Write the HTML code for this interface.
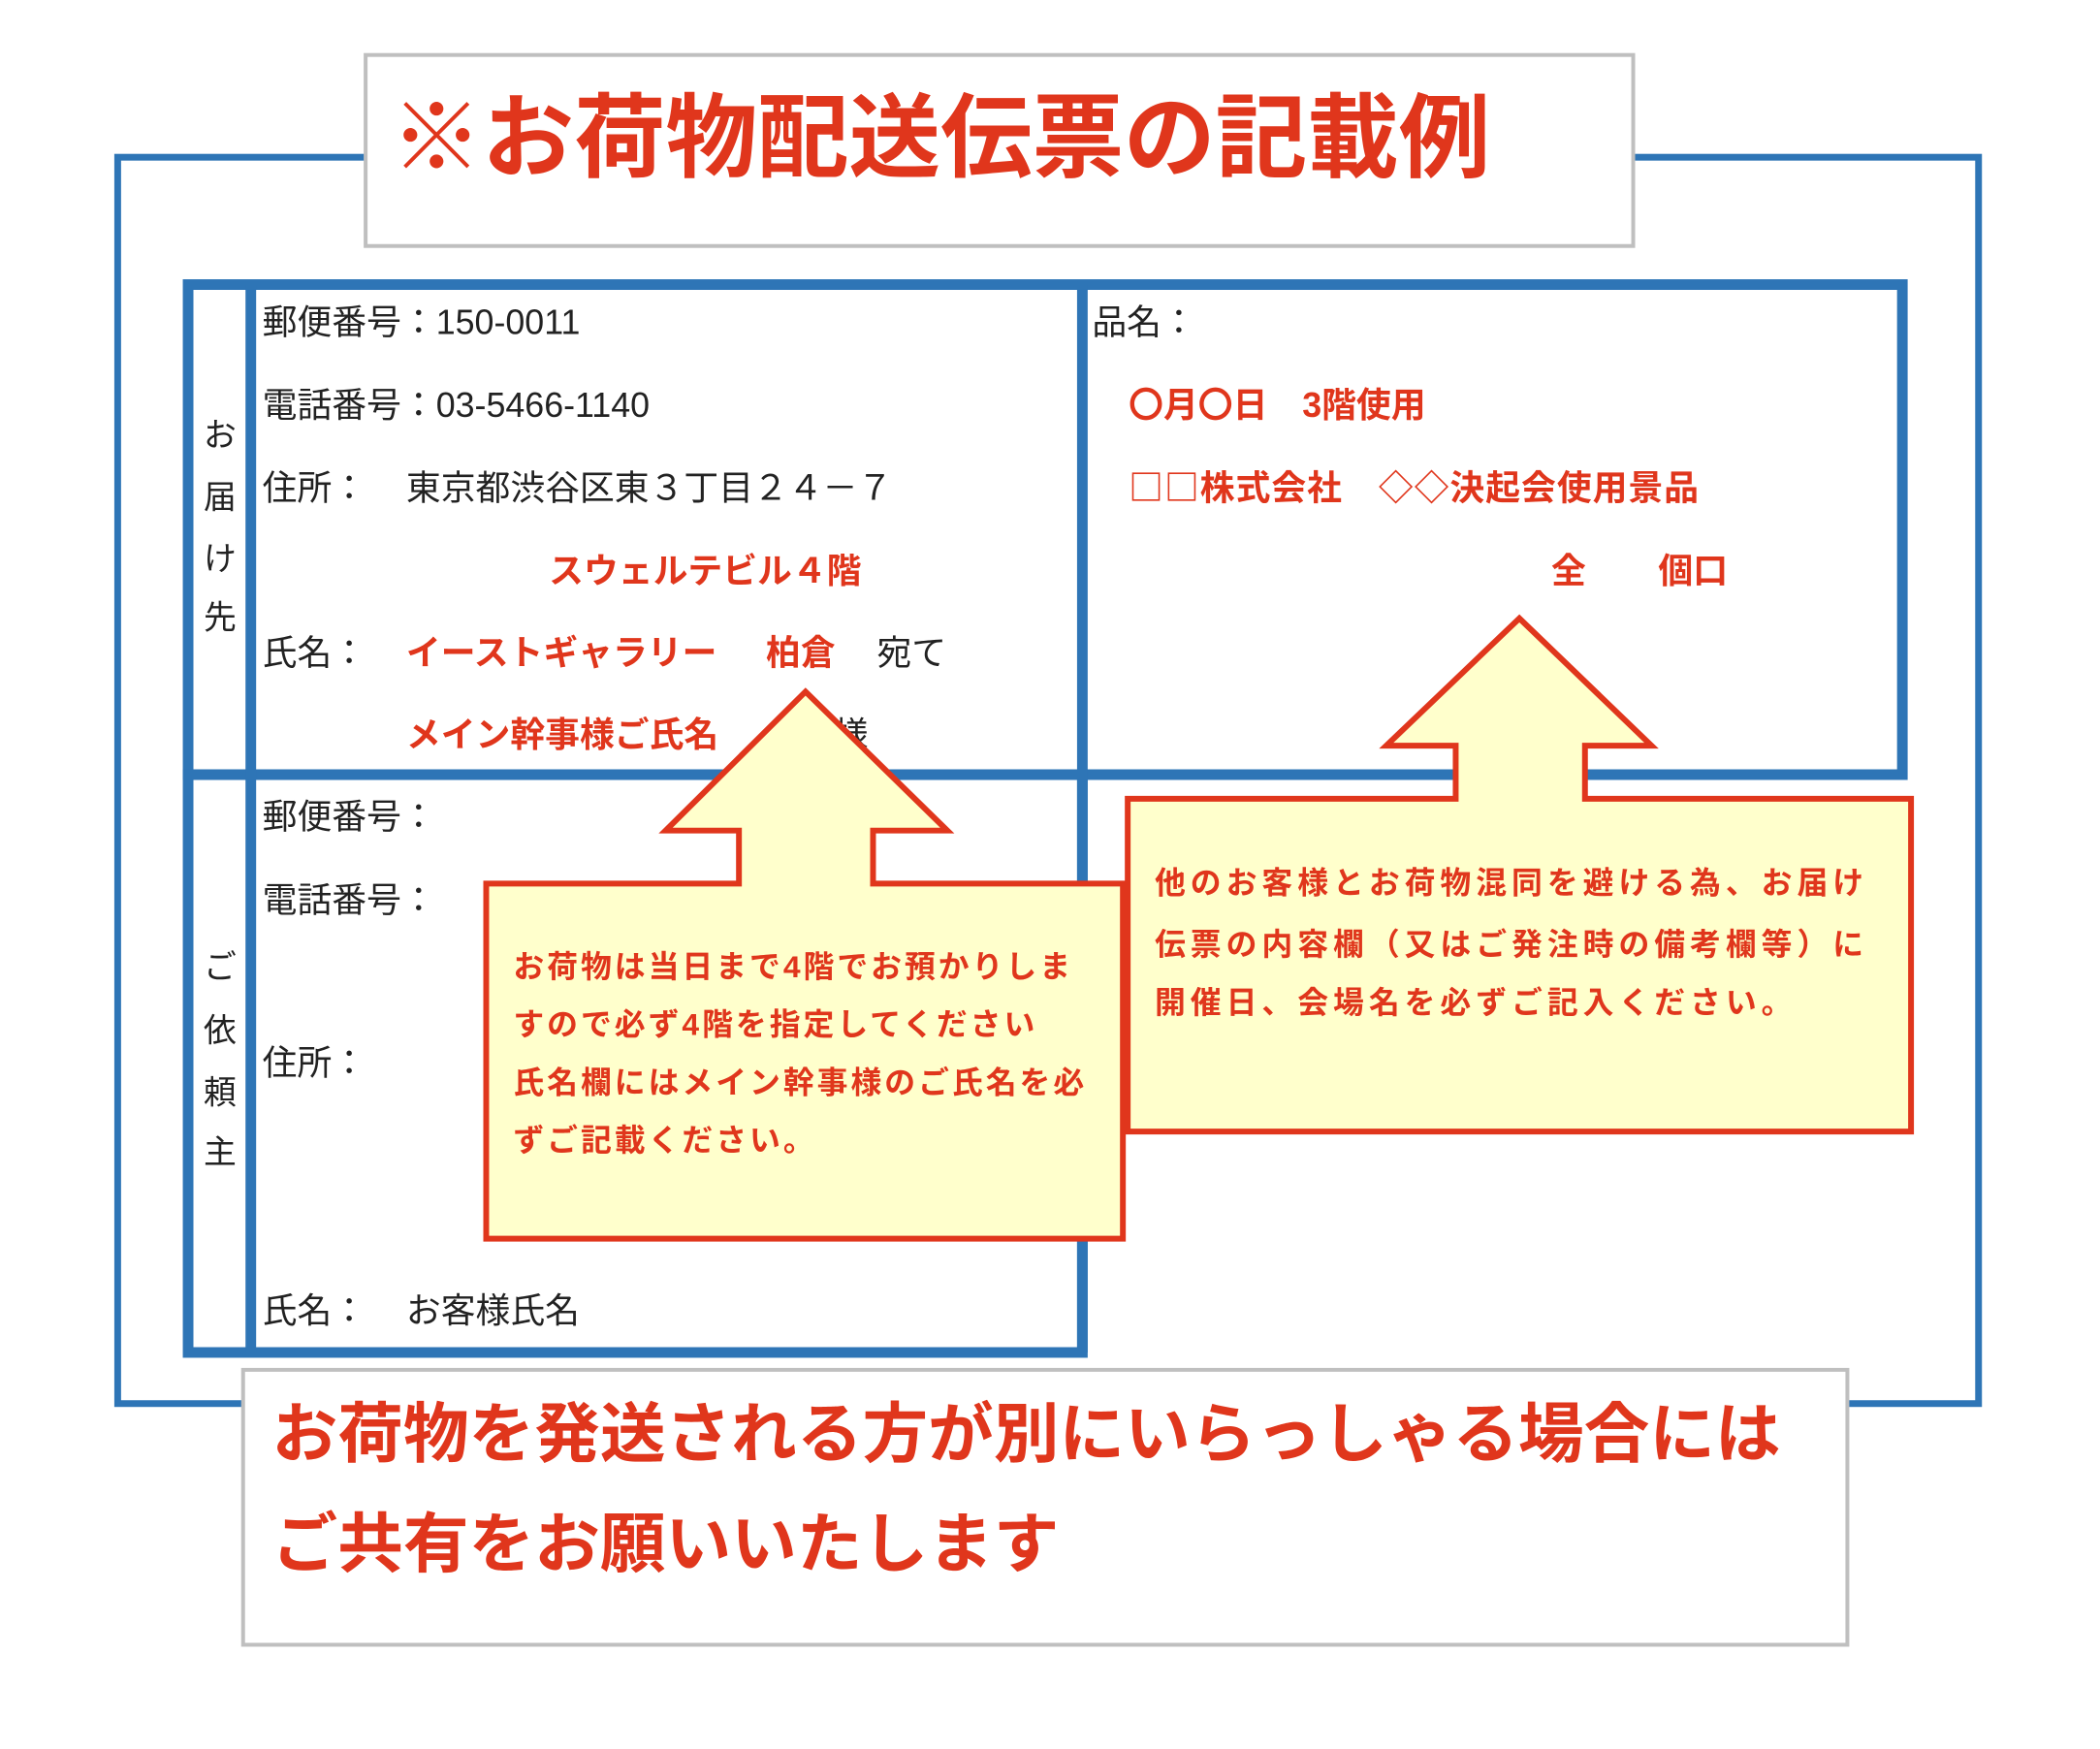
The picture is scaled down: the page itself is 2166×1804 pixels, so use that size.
<!DOCTYPE html>
<html><head><meta charset="utf-8"><style>
html,body{margin:0;padding:0;background:#fff;}
svg{display:block;}
text{font-family:"Liberation Sans","Noto Sans CJK JP",sans-serif;}
.k{fill:#222;font-size:36px;}
.r{fill:#e0361c;font-size:36px;font-weight:bold;}
.c{fill:#e0361c;font-size:32px;font-weight:bold;letter-spacing:3px;}
</style></head><body>
<svg width="2166" height="1804" viewBox="0 0 2166 1804" xmlns="http://www.w3.org/2000/svg">
<rect width="2166" height="1804" fill="#fff"/>
<g transform="scale(0.995)">
<rect x="122" y="163" width="1929" height="1292" fill="none" stroke="#2e75b6" stroke-width="7"/>
<rect x="379" y="57" width="1314" height="198" fill="#fff" stroke="#bfbfbf" stroke-width="4"/>
<text x="405" y="176" style="fill:#e0361c;font-size:95px;font-weight:bold;">※お荷物配送伝票の記載例</text>
<g fill="none" stroke="#2e75b6" stroke-width="11">
<rect x="195" y="295" width="1777" height="508"/>
<rect x="195" y="803" width="927" height="599"/>
<line x1="260" y1="295" x2="260" y2="1402"/>
<line x1="1122" y1="295" x2="1122" y2="1402"/>
</g>
<g class="k" text-anchor="middle" style="font-size:34px">
<text x="228" y="463">お</text><text x="228" y="527">届</text><text x="228" y="591">け</text><text x="228" y="652">先</text>
<text x="228" y="1014">ご</text><text x="228" y="1080">依</text><text x="228" y="1144">頼</text><text x="228" y="1206">主</text>
</g>
<text class="k" x="272" y="346">郵便番号：150-0011</text>
<text class="k" x="272" y="432">電話番号：03-5466-1140</text>
<text class="k" x="272" y="518">住所：</text>
<text class="k" x="421" y="518">東京都渋谷区東３丁目２４－７</text>
<text class="r" x="569" y="604">スウェルテビル４階</text>
<text class="k" x="272" y="689">氏名：</text>
<text class="r" x="421" y="689">イーストギャラリー</text>
<text class="r" x="794" y="689">柏倉</text>
<text class="k" x="909" y="689">宛て</text>
<text class="r" x="421" y="774">メイン幹事様ご氏名</text>
<text class="k" x="864" y="774">様</text>
<text class="k" x="272" y="859">郵便番号：</text>
<text class="k" x="272" y="945">電話番号：</text>
<text class="k" x="272" y="1114">住所：</text>
<text class="k" x="272" y="1371">氏名：</text>
<text class="k" x="421" y="1371">お客様氏名</text>
<text class="k" x="1132" y="346">品名：</text>
<text class="r" x="1170" y="432">〇月〇日　3階使用</text>
<text class="r" x="1170" y="518" style="font-family:'Noto Sans CJK JP',sans-serif;letter-spacing:1px">□□株式会社　◇◇決起会使用景品</text>
<text class="r" x="1608" y="604">全</text>
<text class="r" x="1719" y="604">個口</text>
<polygon points="835,717 982,861 905,861 905,916 1164,916 1164,1284 504,1284 504,916 766,916 766,861 690,861" fill="#ffffcc" stroke="#e0361c" stroke-width="6" stroke-linejoin="miter"/>
<text class="c" x="532" y="1013">お荷物は当日まで4階でお預かりしま</text>
<text class="c" x="532" y="1073">すので必ず4階を指定してください</text>
<text class="c" x="532" y="1133">氏名欄にはメイン幹事様のご氏名を必</text>
<text class="c" x="532" y="1193">ずご記載ください。</text>
<polygon points="1575,641 1712,773 1643,773 1643,828 1981,828 1981,1173 1169,1173 1169,828 1509,828 1509,773 1437,773" fill="#ffffcc" stroke="#e0361c" stroke-width="6"/>
<text class="c" x="1197" y="926" style="letter-spacing:5px">他のお客様とお荷物混同を避ける為、お届け</text>
<text class="c" x="1197" y="990" style="letter-spacing:5px">伝票の内容欄（又はご発注時の備考欄等）に</text>
<text class="c" x="1197" y="1050" style="letter-spacing:5px">開催日、会場名を必ずご記入ください。</text>
<rect x="252" y="1420" width="1663" height="285" fill="#fff" stroke="#bfbfbf" stroke-width="4"/>
<text x="282" y="1510" style="fill:#e0361c;font-size:68px;font-weight:bold;">お荷物を発送される方が別にいらっしゃる場合には</text>
<text x="282" y="1624" style="fill:#e0361c;font-size:68px;font-weight:bold;">ご共有をお願いいたします</text>
</g>
</svg>
</body></html>
